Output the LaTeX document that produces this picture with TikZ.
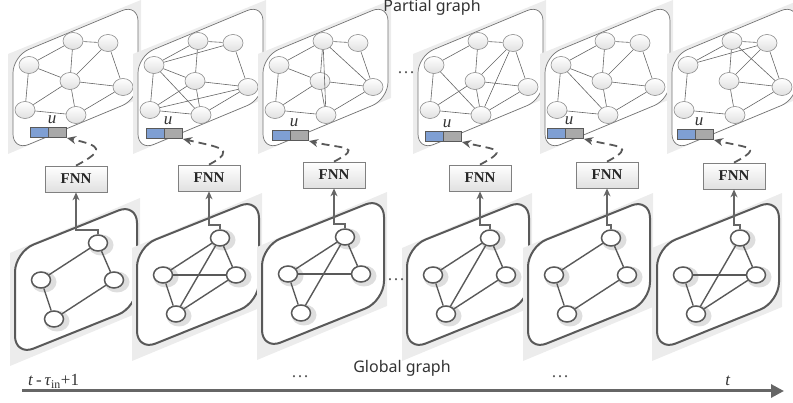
\documentclass[tikz,border=0pt]{standalone}
\usepackage{fontspec}
\newfontfamily\tmsfont{Liberation Serif}
\newfontfamily\lblfont{Noto Sans}
\usetikzlibrary{arrows.meta,shapes.geometric}
\definecolor{ublue}{HTML}{7F9FD3}
\definecolor{ugray}{HTML}{A9A9A9}
\definecolor{dk}{HTML}{595959}
\definecolor{shd}{HTML}{ECECEC}
\tikzset{
 topframe/.style={draw=black!55, line width=0.7pt, fill=white, rounded corners=17pt},
 botframe/.style={draw=dk, line width=2pt, fill=white, rounded corners=20pt},
 tnode/.style={ellipse, draw=black!45, line width=0.6pt, top color=white, bottom color=black!12, minimum width=20pt, minimum height=17pt, inner sep=0pt},
 tedge/.style={draw=black!60, line width=0.6pt},
 bnode/.style={ellipse, draw=dk, line width=1.5pt, fill=white, minimum width=19pt, minimum height=16pt, inner sep=0pt},
 bhalo/.style={ellipse, fill=black!13, minimum width=25pt, minimum height=21pt, inner sep=0pt},
 bedge/.style={draw=dk, line width=1.4pt},
 fnnbox/.style={draw=black!50, line width=0.7pt, top color=white, bottom color=black!12, minimum width=62pt, minimum height=26pt, inner sep=0pt, font=\tmsfont\bfseries\fontsize{15}{15}\selectfont, text=black!85},
 ubox/.style={draw=dk, line width=0.7pt, fill=ublue, minimum width=18pt, minimum height=10pt, inner sep=0pt, outer sep=0pt},
 gbox/.style={draw=dk, line width=0.7pt, fill=ugray, minimum width=18pt, minimum height=10pt, inner sep=0pt, outer sep=0pt},
 ulbl/.style={font=\tmsfont\itshape\fontsize{17}{17}\selectfont, inner sep=0pt, text=black!80},
 dasharrow/.style={draw=black!65, line width=1.8pt, dash pattern=on 8pt off 5pt, -{Stealth[length=9pt,width=8pt]}},
 uparrow/.style={draw=black!60, line width=1.6pt, -{Stealth[length=8pt,width=7pt]}},
 lbl/.style={font=\lblfont\fontsize{16}{16}\selectfont, text=black!80, inner sep=0pt},
 dotlbl/.style={font=\tmsfont\fontsize{18}{18}\selectfont, text=black!65, inner sep=0pt},
 axlbl/.style={font=\tmsfont\fontsize{17}{17}\selectfont, text=black!80, inner sep=0pt},
}
\newcommand\toppanel[2]{%
 \fill[shd] (#2-5,54) -- (#2+128,0) -- (#2+128,98) -- (#2-5,154) -- cycle;
 \draw[topframe] (#2,56) -- (#2+125,4) -- (#2+125,99) -- (#2,151) -- cycle;
 \node[tnode] (#1A) at (#2+16,65) {};
 \node[tnode] (#1B) at (#2+60,41) {};
 \node[tnode] (#1C) at (#2+95,43) {};
 \node[tnode] (#1D) at (#2+57,81) {};
 \node[tnode] (#1E) at (#2+110,87) {};
 \node[tnode] (#1F) at (#2+12,110) {};
 \node[tnode] (#1G) at (#2+63,115) {};
}
\newcommand\botpanel[3]{%
 \fill[shd] (#2-5,#3+1) -- (#2+125,#3-54) -- (#2+125,#3+60) -- (#2-5,#3+114) -- cycle;
 \draw[botframe] (#2,#3) -- (#2+122,#3-49) -- (#2+122,#3+55) -- (#2,#3+104) -- cycle;
 \node[bhalo] (#1Ph) at (#2+86,#3-7) {};
 \node[bhalo] (#1Qh) at (#2+29,#3+30) {};
 \node[bhalo] (#1Rh) at (#2+102,#3+30) {};
 \node[bhalo] (#1Sh) at (#2+42,#3+69) {};
 \node[bnode] (#1P) at (#2+83,#3-9) {};
 \node[bnode] (#1Q) at (#2+26,#3+28) {};
 \node[bnode] (#1R) at (#2+99,#3+28) {};
 \node[bnode] (#1S) at (#2+39,#3+67) {};
}
\newcommand\ublock[4]{%
 \node[ubox, anchor=north west] (#1b) at (#2,#3) {};
 \node[gbox, anchor=west] (#1g) at (#1b.east) {};
 \node[ulbl, anchor=base] (#1l) at (#2+22,#3-3) {u};
 \coordinate (#1t) at (#2+37,#3+11);
 \draw[dasharrow] (#4.north) .. controls +(30,-16) and +(34,8) .. (#1t);
}
\begin{document}
\begin{tikzpicture}[x=1pt,y=-1pt]
\useasboundingbox (0,0) rectangle (793,403);
% top panels
\toppanel{t1}{13}
\foreach \a/\b in {A/B,B/C,B/D,C/D,C/E,A/D,A/F,D/E,D/F,D/G,F/G,G/E} \draw[tedge] (t1\a) -- (t1\b);
\toppanel{t2}{138}
\foreach \a/\b in {A/B,B/C,B/D,A/C,C/E,A/D,A/G,A/F,D/E,D/F,F/E,F/G,G/E,D/G} \draw[tedge] (t2\a) -- (t2\b);
\toppanel{t3}{263}
\foreach \a/\b in {A/B,A/D,A/F,B/C,B/D,B/G,B/E,C/E,D/E,D/F,D/G,F/G,G/E} \draw[tedge] (t3\a) -- (t3\b);
\toppanel{t4}{418}
\foreach \a/\b in {A/B,B/C,B/D,C/E,C/D,C/G,A/F,A/G,D/F,D/E,D/G,F/G,G/E} \draw[tedge] (t4\a) -- (t4\b);
\toppanel{t5}{545}
\foreach \a/\b in {A/B,B/C,B/D,C/D,C/E,A/D,A/F,A/G,D/E,F/G,G/E,D/G} \draw[tedge] (t5\a) -- (t5\b);
\toppanel{t6}{672}
\foreach \a/\b in {A/B,B/C,A/C,B/D,B/E,C/D,C/E,D/E,D/G,A/F,F/G,G/E} \draw[tedge] (t6\a) -- (t6\b);
% bottom panels
\botpanel{b1}{15}{252}
\foreach \a/\b in {P/Q,P/R,Q/S,S/R} \draw[bedge] (b1\a) -- (b1\b);
\botpanel{b2}{137}{247}
\foreach \a/\b in {P/Q,P/R,Q/R,Q/S,S/R,P/S} \draw[bedge] (b2\a) -- (b2\b);
\botpanel{b3}{262}{246}
\foreach \a/\b in {P/Q,P/R,Q/R,Q/S,P/S} \draw[bedge] (b3\a) -- (b3\b);
\botpanel{b4}{407}{247}
\foreach \a/\b in {P/Q,P/R,Q/S,S/R,P/S} \draw[bedge] (b4\a) -- (b4\b);
\botpanel{b5}{528}{247}
\foreach \a/\b in {P/Q,P/R,Q/S,S/R} \draw[bedge] (b5\a) -- (b5\b);
\botpanel{b6}{657}{247}
\foreach \a/\b in {P/R,Q/R,Q/S,S/R,P/S} \draw[bedge] (b6\a) -- (b6\b);
% FNN boxes
\node[fnnbox] (f1) at (76,179) {FNN};
\node[fnnbox] (f2) at (209,178) {FNN};
\node[fnnbox] (f3) at (334,175) {FNN};
\node[fnnbox] (f4) at (480,178) {FNN};
\node[fnnbox] (f5) at (607,175) {FNN};
\node[fnnbox] (f6) at (734,176) {FNN};
% arrows up
\foreach \i in {1,...,6} \draw[uparrow] (b\i P.north) -- ++(0,-4) -| (f\i.south);
% u blocks
\ublock{u1}{30}{127}{f1}
\ublock{u2}{146}{128}{f2}
\ublock{u3}{272}{130}{f3}
\ublock{u4}{425}{131}{f4}
\ublock{u5}{547}{128}{f5}
\ublock{u6}{677}{129}{f6}
% dots between panels
\node[dotlbl] (dtop) at (406,73) {…};
\node[dotlbl] (dbot) at (396,280) {…};
% titles
\node[lbl, anchor=base] (ptitle) at (432,12) {Partial graph};
\node[lbl, anchor=base] (gtitle) at (402,373) {Global graph};
% time axis
\coordinate (ax0) at (22,391);
\coordinate (ax1) at (784,391);
\draw[draw=black!60, line width=3pt, -{Triangle[length=13pt,width=13pt]}] (ax0) -- (ax1);
\node[axlbl, anchor=base west] (tstart) at (28,386) {\textit{t}\,-\,\textit{τ}\textsubscript{in}+1};
\node[dotlbl] (adot1) at (300,377) {…};
\node[dotlbl] (adot2) at (560,377) {…};
\node[axlbl, anchor=base] (tend) at (728,386) {\textit{t}};
\end{tikzpicture}
\end{document}
